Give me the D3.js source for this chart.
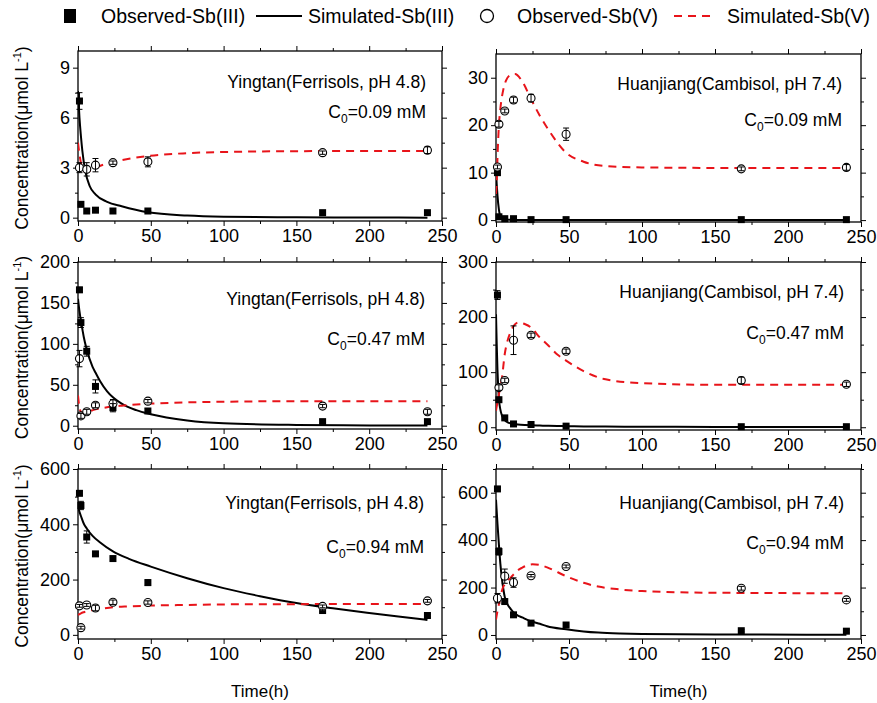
<!DOCTYPE html>
<html>
<head>
<meta charset="utf-8">
<script src="https://cdn.jsdelivr.net/npm/d3@7"></script>
<style>
  body { margin: 0; background: #fff; }
  text { font-family: "Liberation Sans", Arial, sans-serif; fill: #000; }
</style>
</head>
<body>
<div id="chart"></div>
<script>
// sampling times (h) of the observed points
var times = [1, 2, 6, 12, 24, 48, 168, 240];
var xTicks = [0, 50, 100, 150, 200, 250];
var xMinor = [25, 75, 125, 175, 225];

// Yingtan, C0 = 0.09 mM
var yt1Obs3 = [7.0, 0.8, 0.4, 0.45, 0.4, 0.4, 0.3, 0.3];
var yt1Err3 = [0.5, 0, 0, 0, 0, 0.05, 0, 0];
var yt1Obs5 = [3.0, null, 2.9, 3.15, 3.3, 3.35, 3.9, 4.05];
var yt1Err5 = [0.3, 0, 0.4, 0.4, 0.1, 0.3, 0.1, 0.2];
var yt1SimT = [0, 1, 2, 3, 5, 8, 12, 20, 30, 48, 75, 100, 150, 200, 240];
var yt1Sim3 = [7.6, 6.0, 4.9, 4.0, 2.8, 1.9, 1.4, 0.95, 0.68, 0.32, 0.13, 0.06, 0.02, 0.01, 0.0];
var yt1Sim5 = [4.5, 3.8, 3.3, 3.0, 2.75, 2.8, 3.0, 3.25, 3.45, 3.7, 3.87, 3.94, 3.99, 4.0, 4.0];

// Huanjiang, C0 = 0.09 mM
var hj1Obs3 = [10.0, 0.7, 0.3, 0.3, 0.1, 0.1, 0.1, 0.1];
var hj1Err3 = [0, 0, 0, 0, 0, 0, 0, 0];
var hj1Obs5 = [11.2, 20.2, 23.0, 25.3, 25.7, 18.1, 10.8, 11.1];
var hj1Err5 = [0.4, 0.6, 0.4, 0.6, 0.8, 1.3, 0.4, 0.6];
var hj1SimT = [0, 0.5, 1, 2, 3, 5, 7, 10, 13, 18, 24, 30, 36, 48, 60, 75, 100, 150, 240];
var hj1Sim3 = [10.4, 7.5, 5.2, 2.2, 0.8, 0.2, 0.1, 0.05, 0.02, 0, 0, 0, 0, 0, 0, 0, 0, 0, 0];
var hj1Sim5 = [5.5, 8, 13, 20, 23.5, 27.5, 29.5, 30.6, 30.8, 29.2, 25.5, 22, 19, 14.2, 12.3, 11.4, 11.1, 11.0, 11.0];

// Yingtan, C0 = 0.47 mM
var yt2Obs3 = [166, 126, 91, 48, 22, 18, 5, 5];
var yt2Err3 = [3, 6, 6, 8, 5, 3, 2, 2];
var yt2Obs5 = [82, 12, 17, 25, 27, 30, 24, 17];
var yt2Err5 = [10, 3, 3, 3, 5, 2, 2, 3];
var yt2SimT = [0, 1, 2, 3, 4, 6, 10, 12, 15, 20, 30, 40, 50, 75, 100, 150, 200, 240];
var yt2Sim3 = [155, 140, 128, 118, 108, 93, 72, 65, 55, 42, 27, 19, 14, 6.5, 3, 1, 0.4, 0.2];
var yt2Sim5 = [37, 22, 17, 15, 15.5, 17, 19, 20, 21, 22.5, 24.5, 26, 27, 28.5, 29.3, 30, 30, 30];

// Huanjiang, C0 = 0.47 mM
var hj2Obs3 = [240, 50, 17, 6, 5, 2, 1, 1];
var hj2Err3 = [8, 3, 2, 1, 1, 1, 0, 0];
var hj2Obs5 = [null, 72, 85, 158, 167, 138, 85, 78];
var hj2Err5 = [0, 5, 4, 26, 4, 4, 6, 4];
var hj2SimT = [0, 0.5, 1, 1.5, 2, 3, 4, 6, 8, 10, 15, 20, 24, 30, 36, 42, 48, 60, 75, 100, 150, 240];
var hj2Sim3 = [205, 150, 105, 75, 52, 32, 22, 13, 9, 7, 5, 4, 3.5, 3, 2.5, 2.2, 2, 1.5, 1.2, 1, 0.6, 0.5];
var hj2Sim5 = [30, 38, 45, 52, 60, 74, 88, 133, 158, 173, 190, 187, 181, 163, 148, 132, 121, 102, 87, 80, 77, 77];

// Yingtan, C0 = 0.94 mM
var yt3Obs3 = [512, 468, 354, 293, 276, 189, 88, 70];
var yt3Err3 = [8, 15, 22, 6, 6, 10, 5, 5];
var yt3Obs5 = [105, 26, 108, 97, 118, 117, 103, 123];
var yt3Err5 = [5, 5, 5, 10, 8, 6, 5, 5];
var yt3SimT = [0, 1, 2, 4, 6, 10, 15, 24, 35, 50, 75, 100, 125, 150, 175, 200, 220, 240];
var yt3Sim3 = [465, 445, 430, 402, 385, 358, 335, 302, 275, 247, 205, 169, 140, 115, 96, 79, 66, 54];
var yt3Sim5 = [72, 75, 78, 82, 85, 90, 94, 100, 103, 106, 108, 110, 111, 111, 112, 112, 112, 112];

// Huanjiang, C0 = 0.94 mM
var hj3Obs3 = [616, 352, 141, 85, 50, 42, 18, 16];
var hj3Err3 = [5, 15, 8, 6, 4, 5, 5, 6];
var hj3Obs5 = [155, null, 248, 221, 250, 289, 197, 148];
var hj3Err5 = [20, 0, 30, 20, 5, 6, 8, 6];
var hj3SimT = [0, 1, 2, 3, 4, 5, 6, 8, 10, 12, 15, 18, 20, 25, 30, 35, 48, 60, 70, 85, 100, 150, 240];
var hj3Sim3 = [570, 470, 380, 300, 240, 195, 160, 128, 110, 95, 82, 74, 68, 56, 47, 37, 24, 15, 10, 6, 4, 2, 1];
var hj3Sim5 = [65, 100, 130, 160, 185, 204, 212, 230, 241, 255, 273, 284, 290, 298, 295, 285, 248, 220, 204, 192, 185, 178, 176];

var panels = [
  { site: "Yingtan(Ferrisols, pH 4.8)", c0: "0.09", x0: 78, x1: 442, y0: 51, y1: 221, yDom: [-0.2, 10],
    yTicks: [0, 3, 6, 9], yMinor: [1.5, 4.5, 7.5], annY: 37, c0Y: 67, annR: 426,
    obs3: yt1Obs3, err3: yt1Err3, obs5: yt1Obs5, err5: yt1Err5, simT: yt1SimT, sim3: yt1Sim3, sim5: yt1Sim5, yTitle: true },
  { site: "Huanjiang(Cambisol, pH 7.4)", c0: "0.09", x0: 496, x1: 861, y0: 54, y1: 222, yDom: [-0.4, 35],
    yTicks: [0, 10, 20, 30], yMinor: [5, 15, 25], annY: 36, c0Y: 72, annR: 842,
    obs3: hj1Obs3, err3: hj1Err3, obs5: hj1Obs5, err5: hj1Err5, simT: hj1SimT, sim3: hj1Sim3, sim5: hj1Sim5 },
  { site: "Yingtan(Ferrisols, pH 4.8)", c0: "0.47", x0: 78, x1: 442, y0: 262, y1: 429, yDom: [-4, 200],
    yTicks: [0, 50, 100, 150, 200], yMinor: [25, 75, 125, 175], annY: 43, c0Y: 83, annR: 425,
    obs3: yt2Obs3, err3: yt2Err3, obs5: yt2Obs5, err5: yt2Err5, simT: yt2SimT, sim3: yt2Sim3, sim5: yt2Sim5, yTitle: true },
  { site: "Huanjiang(Cambisol, pH 7.4)", c0: "0.47", x0: 496, x1: 861, y0: 262, y1: 430, yDom: [-5, 300],
    yTicks: [0, 100, 200, 300], yMinor: [50, 150, 250], annY: 36, c0Y: 77, annR: 844,
    obs3: hj2Obs3, err3: hj2Err3, obs5: hj2Obs5, err5: hj2Err5, simT: hj2SimT, sim3: hj2Sim3, sim5: hj2Sim5 },
  { site: "Yingtan(Ferrisols, pH 4.8)", c0: "0.94", x0: 78, x1: 442, y0: 469, y1: 639, yDom: [-15, 600],
    yTicks: [0, 200, 400, 600], yMinor: [100, 300, 500], annY: 40, c0Y: 84, annR: 424,
    obs3: yt3Obs3, err3: yt3Err3, obs5: yt3Obs5, err5: yt3Err5, simT: yt3SimT, sim3: yt3Sim3, sim5: yt3Sim5, yTitle: true, xTitle: true },
  { site: "Huanjiang(Cambisol, pH 7.4)", c0: "0.94", x0: 496, x1: 861, y0: 469, y1: 639, yDom: [-17, 700],
    yTicks: [0, 200, 400, 600], yMinor: [100, 300, 500, 700], annY: 40, c0Y: 80, annR: 844,
    obs3: hj3Obs3, err3: hj3Err3, obs5: hj3Obs5, err5: hj3Err5, simT: hj3SimT, sim3: hj3Sim3, sim5: hj3Sim5, xTitle: true }
];

var svg = d3.select("#chart").append("svg")
    .attr("width", 877)
    .attr("height", 703);

var defs = svg.append("defs");

panels.forEach(function(p, i) {
  var x = d3.scaleLinear().domain([0, 250]).range([p.x0, p.x1]);
  var y = d3.scaleLinear().domain(p.yDom).range([p.y1, p.y0]);
  var g = svg.append("g");

  defs.append("clipPath").attr("id", "clip" + i)
    .append("rect")
    .attr("x", p.x0).attr("y", p.y0)
    .attr("width", p.x1 - p.x0).attr("height", p.y1 - p.y0);

  // axes (ticks out on left/bottom, mirrored on top/right)
  g.append("g").attr("transform", "translate(0," + p.y1 + ")")
    .call(d3.axisBottom(x).tickValues(xTicks).tickSize(5).tickSizeOuter(0).tickPadding(3));
  g.append("g").attr("transform", "translate(0," + p.y1 + ")")
    .call(d3.axisBottom(x).tickValues(xMinor).tickSize(3).tickSizeOuter(0).tickFormat(""));
  g.append("g").attr("transform", "translate(" + p.x0 + ",0)")
    .call(d3.axisLeft(y).tickValues(p.yTicks).tickSize(5).tickSizeOuter(0).tickPadding(3));
  g.append("g").attr("transform", "translate(" + p.x0 + ",0)")
    .call(d3.axisLeft(y).tickValues(p.yMinor).tickSize(3).tickSizeOuter(0).tickFormat(""));
  g.append("g").attr("transform", "translate(0," + p.y0 + ")")
    .call(d3.axisTop(x).tickValues(xTicks).tickSize(5).tickSizeOuter(0).tickFormat(""));
  g.append("g").attr("transform", "translate(0," + p.y0 + ")")
    .call(d3.axisTop(x).tickValues(xMinor).tickSize(3).tickSizeOuter(0).tickFormat(""));
  g.append("g").attr("transform", "translate(" + p.x1 + ",0)")
    .call(d3.axisRight(y).tickValues(p.yTicks).tickSize(5).tickSizeOuter(0).tickFormat(""));
  g.append("g").attr("transform", "translate(" + p.x1 + ",0)")
    .call(d3.axisRight(y).tickValues(p.yMinor).tickSize(3).tickSizeOuter(0).tickFormat(""));

  g.selectAll(".domain").remove();
  g.selectAll(".tick line").attr("stroke", "#000").attr("stroke-width", 1);
  g.selectAll(".tick text")
    .style("font-family", "'Liberation Sans', Arial, sans-serif")
    .style("font-size", "18px")
    .attr("fill", "#000");

  g.append("rect")
    .attr("x", p.x0).attr("y", p.y0)
    .attr("width", p.x1 - p.x0).attr("height", p.y1 - p.y0)
    .attr("fill", "none").attr("stroke", "#000").attr("stroke-width", 1.3);

  // simulated curves
  var sim3 = p.simT.map(function(t, k) { return [t, p.sim3[k]]; });
  var sim5 = p.simT.map(function(t, k) { return [t, p.sim5[k]]; });
  var line = d3.line()
    .x(function(d) { return x(d[0]); })
    .y(function(d) { return y(d[1]); })
    .curve(d3.curveMonotoneX);

  var lines = g.append("g").attr("clip-path", "url(#clip" + i + ")");
  lines.append("path").datum(sim3)
    .attr("d", line).attr("fill", "none")
    .attr("stroke", "#000").attr("stroke-width", 2);
  lines.append("path").datum(sim5)
    .attr("d", line).attr("fill", "none")
    .attr("stroke", "#e8141a").attr("stroke-width", 2)
    .attr("stroke-dasharray", "8,6");

  // observed points
  var obs3 = times.map(function(t, k) { return { t: t, v: p.obs3[k], e: p.err3[k] }; })
    .filter(function(d) { return d.v !== null; });
  var obs5 = times.map(function(t, k) { return { t: t, v: p.obs5[k], e: p.err5[k] }; })
    .filter(function(d) { return d.v !== null; });

  g.selectAll(".sq").data(obs3).enter().append("rect")
    .attr("x", function(d) { return x(d.t) - 3.5; })
    .attr("y", function(d) { return y(d.v) - 3.5; })
    .attr("width", 7).attr("height", 7)
    .attr("fill", "#000");

  g.selectAll(".ci").data(obs5).enter().append("circle")
    .attr("cx", function(d) { return x(d.t); })
    .attr("cy", function(d) { return y(d.v); })
    .attr("r", 4)
    .attr("fill", "#fff")
    .attr("stroke", "#000").attr("stroke-width", 1.1);

  var errs = obs3.concat(obs5).filter(function(d) { return d.e > 0; });
  var eb = g.selectAll(".eb").data(errs).enter().append("g")
    .attr("stroke", "#000").attr("stroke-width", 1);
  eb.append("line")
    .attr("x1", function(d) { return x(d.t); }).attr("x2", function(d) { return x(d.t); })
    .attr("y1", function(d) { return y(d.v + d.e); }).attr("y2", function(d) { return y(d.v - d.e); });
  eb.append("line")
    .attr("x1", function(d) { return x(d.t) - 3; }).attr("x2", function(d) { return x(d.t) + 3; })
    .attr("y1", function(d) { return y(d.v + d.e); }).attr("y2", function(d) { return y(d.v + d.e); });
  eb.append("line")
    .attr("x1", function(d) { return x(d.t) - 3; }).attr("x2", function(d) { return x(d.t) + 3; })
    .attr("y1", function(d) { return y(d.v - d.e); }).attr("y2", function(d) { return y(d.v - d.e); });

  // annotations
  g.append("text")
    .attr("x", p.annR).attr("y", p.y0 + p.annY)
    .attr("text-anchor", "end")
    .style("font-size", "17.5px")
    .text(p.site);

  var c0 = g.append("text")
    .attr("x", p.annR).attr("y", p.y0 + p.c0Y)
    .attr("text-anchor", "end")
    .style("font-size", "17.5px");
  c0.append("tspan").text("C");
  c0.append("tspan").attr("dy", 5).style("font-size", "12px").text("0");
  c0.append("tspan").attr("dy", -5).text("=" + p.c0 + " mM");

  if (p.yTitle) {
    var cy = (p.y0 + p.y1) / 2 + 2;
    var yt = svg.append("text")
      .attr("transform", "translate(28," + cy + ") rotate(-90)")
      .attr("text-anchor", "middle")
      .style("font-size", "17.5px");
    yt.append("tspan").text("Concentration(\u03bcmol L");
    yt.append("tspan").attr("dy", -7).style("font-size", "11px").text("-1");
    yt.append("tspan").attr("dy", 7).text(")");
  }

  if (p.xTitle) {
    svg.append("text")
      .attr("x", (p.x0 + p.x1) / 2).attr("y", 697)
      .attr("text-anchor", "middle")
      .style("font-size", "17px")
      .text("Time(h)");
  }
});

// legend
var leg = svg.append("g");
var ly = 16;
leg.append("rect").attr("x", 64).attr("y", ly - 7).attr("width", 12).attr("height", 14).attr("fill", "#000");
leg.append("text").attr("x", 101).attr("y", ly + 7).style("font-size", "19.5px").text("Observed-Sb(III)");
leg.append("line").attr("x1", 256).attr("x2", 302).attr("y1", ly).attr("y2", ly)
  .attr("stroke", "#000").attr("stroke-width", 2);
leg.append("text").attr("x", 308).attr("y", ly + 7).style("font-size", "19.5px").text("Simulated-Sb(III)");
leg.append("circle").attr("cx", 487).attr("cy", ly).attr("r", 6.5)
  .attr("fill", "#fff").attr("stroke", "#000").attr("stroke-width", 1.3);
leg.append("text").attr("x", 517).attr("y", ly + 7).style("font-size", "19.5px").text("Observed-Sb(V)");
leg.append("line").attr("x1", 674).attr("x2", 716).attr("y1", ly).attr("y2", ly)
  .attr("stroke", "#e8141a").attr("stroke-width", 2).attr("stroke-dasharray", "8,6");
leg.append("text").attr("x", 727).attr("y", ly + 7).style("font-size", "19.5px").text("Simulated-Sb(V)");
</script>
</body>
</html>
